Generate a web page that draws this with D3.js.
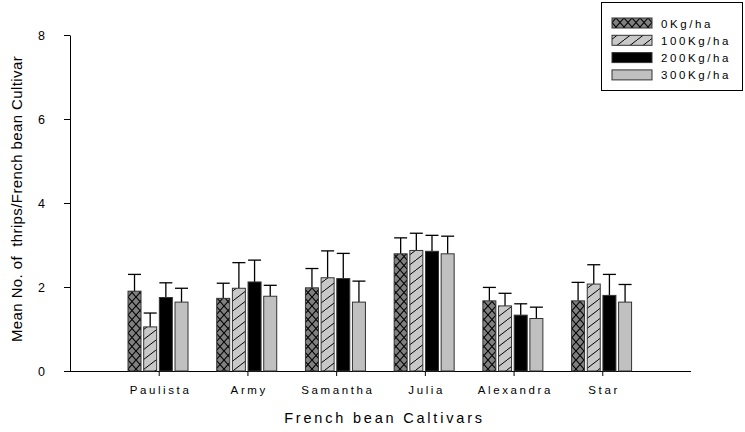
<!DOCTYPE html>
<html>
<head>
<meta charset="utf-8">
<script src="https://cdn.jsdelivr.net/npm/d3@7"></script>
<style>
  html, body { margin: 0; padding: 0; background: #fff; }
  svg { display: block; font-family: "Liberation Sans", Arial, sans-serif; }
</style>
</head>
<body>
<svg id="chart" width="745" height="432"></svg>
<script>
// Cultivars along the x axis
const categories = ["Paulista", "Army", "Samantha", "Julia", "Alexandra", "Star"];
// Fertiliser rates (one bar per rate in each group)
const seriesNames = ["0Kg/ha", "100Kg/ha", "200Kg/ha", "300Kg/ha"];
// Mean number of thrips per rate
const means0   = [1.90, 1.73, 1.98, 2.79, 1.67, 1.67];
const means100 = [1.05, 1.97, 2.22, 2.87, 1.55, 2.07];
const means200 = [1.75, 2.12, 2.20, 2.85, 1.33, 1.80];
const means300 = [1.64, 1.78, 1.64, 2.79, 1.25, 1.64];
// Standard errors (drawn upward only)
const err0   = [0.40, 0.36, 0.46, 0.38, 0.32, 0.44];
const err100 = [0.33, 0.61, 0.64, 0.41, 0.30, 0.46];
const err200 = [0.35, 0.52, 0.60, 0.38, 0.27, 0.50];
const err300 = [0.33, 0.26, 0.50, 0.42, 0.27, 0.42];
const yTicks = [0, 2, 4, 6, 8];

const meansBySeries = [means0, means100, means200, means300];
const errBySeries = [err0, err100, err200, err300];

const svg = d3.select("#chart");

// Fill patterns
const defs = svg.append("defs");
const cross = defs.append("pattern").attr("id", "pat-cross")
  .attr("patternUnits", "userSpaceOnUse").attr("width", 8).attr("height", 9);
cross.append("rect").attr("width", 8).attr("height", 9).attr("fill", "#808080");
cross.append("path").attr("d", "M0,0L8,9M8,0L0,9")
  .attr("stroke", "#000").attr("stroke-width", 1.1).attr("fill", "none");

const diag = defs.append("pattern").attr("id", "pat-diag")
  .attr("patternUnits", "userSpaceOnUse").attr("width", 13).attr("height", 10);
diag.append("rect").attr("width", 13).attr("height", 10).attr("fill", "#c8c8c8");
diag.append("path").attr("d", "M0,10L13,0")
  .attr("stroke", "#000").attr("stroke-width", 1).attr("fill", "none");

const fills = ["url(#pat-cross)", "url(#pat-diag)", "#000000", "#c0c0c0"];

// Scales
const x = d3.scaleLinear().domain([0, categories.length + 1]).range([70, 691]);
const y = d3.scaleLinear().domain([0, 8]).range([371, 35]);
const inner = d3.scaleBand().domain(seriesNames).range([-30.7, 29.3]).paddingInner(0.17);

// Y axis
const yAxis = svg.append("g").attr("transform", "translate(70,0)")
  .call(d3.axisLeft(y).tickValues(yTicks).tickSize(6).tickSizeOuter(0).tickPadding(19));
yAxis.selectAll("text").attr("font-size", 12.5).attr("fill", "#000")
  .attr("font-family", "Liberation Sans, Arial, sans-serif");
yAxis.selectAll("line,path").attr("stroke", "#000");

// X axis
const xAxis = svg.append("g").attr("transform", "translate(0,371)")
  .call(d3.axisBottom(x).tickValues(d3.range(1, categories.length + 1))
    .tickFormat(i => categories[i - 1]).tickSize(5).tickSizeOuter(0).tickPadding(10));
xAxis.select(".domain").attr("d", `M${x.range()[0]},0.5H${x.range()[1]}`);
xAxis.selectAll("text").attr("font-size", 11.5).attr("fill", "#000")
  .attr("letter-spacing", "2.6px").attr("dx", "1.3")
  .attr("font-family", "Liberation Sans, Arial, sans-serif");
xAxis.selectAll("line,path").attr("stroke", "#000");

// Bars and error bars
const rows = [];
categories.forEach((c, i) => {
  seriesNames.forEach((s, j) => {
    rows.push({ i, j, s, v: meansBySeries[j][i], e: errBySeries[j][i] });
  });
});

const bars = svg.append("g");
bars.selectAll("line.err").data(rows).join("line").attr("class", "err")
  .attr("x1", d => x(d.i + 1) + inner(d.s) + inner.bandwidth() / 2)
  .attr("x2", d => x(d.i + 1) + inner(d.s) + inner.bandwidth() / 2)
  .attr("y1", d => y(d.v)).attr("y2", d => y(d.v + d.e))
  .attr("stroke", "#000").attr("stroke-width", 1.3);
bars.selectAll("line.cap").data(rows).join("line").attr("class", "cap")
  .attr("x1", d => x(d.i + 1) + inner(d.s))
  .attr("x2", d => x(d.i + 1) + inner(d.s) + inner.bandwidth())
  .attr("y1", d => y(d.v + d.e)).attr("y2", d => y(d.v + d.e))
  .attr("stroke", "#000").attr("stroke-width", 1.3);
bars.selectAll("rect").data(rows).join("rect")
  .attr("x", d => x(d.i + 1) + inner(d.s))
  .attr("width", inner.bandwidth())
  .attr("y", d => y(d.v))
  .attr("height", d => y(0) - y(d.v))
  .attr("fill", d => fills[d.j])
  .attr("stroke", "#333").attr("stroke-width", 1);

// Axis titles
svg.append("text").attr("x", 384.5).attr("y", 423).attr("text-anchor", "middle")
  .attr("font-size", 14.5).attr("letter-spacing", "2.8px").text("French bean Caltivars");
svg.append("text").attr("transform", "translate(22,199) rotate(-90)")
  .attr("text-anchor", "middle").attr("font-size", 15).attr("letter-spacing", "0.4px")
  .attr("xml:space", "preserve")
  .text("Mean No. of  thrips/French bean Cultivar");

// Legend
const legend = svg.append("g");
legend.append("rect").attr("x", 601.5).attr("y", 2.5).attr("width", 141).attr("height", 88)
  .attr("fill", "#fff").attr("stroke", "#000").attr("stroke-width", 1);
seriesNames.forEach((s, j) => {
  const ly = 18 + j * 17.3;
  legend.append("rect").attr("x", 612).attr("y", ly).attr("width", 40).attr("height", 10)
    .attr("fill", fills[j]).attr("stroke", "#333").attr("stroke-width", 1);
  legend.append("text").attr("x", 661).attr("y", ly + 9.5).attr("font-size", 11.5)
    .attr("letter-spacing", "2.6px").text(s);
});
</script>
</body>
</html>
